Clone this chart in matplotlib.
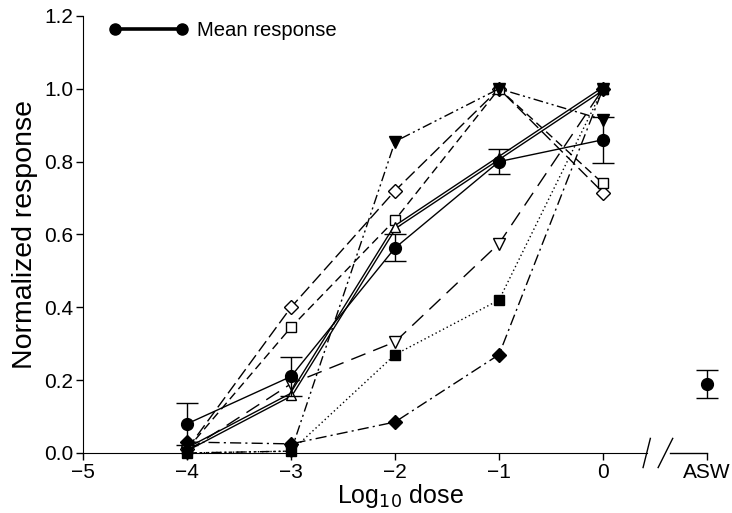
import matplotlib
matplotlib.use("Agg")
import matplotlib.pyplot as plt
from matplotlib.lines import Line2D

plt.rcParams['font.family'] = ['Liberation Sans', 'DejaVu Sans']

doses = [-4, -3, -2, -1, 0]
x_ticks = [-5, -4, -3, -2, -1, 0, 1]
x_ticklabels = ['\u22125', '\u22124', '\u22123', '\u22122', '\u22121', '0', 'ASW']
y_ticks = [0.0, 0.2, 0.4, 0.6, 0.8, 1.0, 1.2]

s_tri_down_filled = [0.0, 0.005, 0.855, 1.0, 0.915]
s_diamond_open = [0.01, 0.40, 0.72, 1.0, 0.715]
s_square_open = [0.01, 0.345, 0.64, 1.0, 0.74]
s_tri_up_open = [0.01, 0.16, 0.62, 0.81, 1.0]
s_tri_down_open = [0.005, 0.19, 0.305, 0.575, 1.0]
s_square_filled = [0.0, 0.005, 0.27, 0.42, 1.0]
s_diamond_filled = [0.03, 0.025, 0.085, 0.27, 1.0]

mean_resp = [0.08, 0.21, 0.563, 0.80, 0.86]
mean_err = [0.057, 0.053, 0.037, 0.034, 0.063]
asw_x = [1]
asw_mean = [0.19]
asw_err = [0.038]

fig = plt.figure(figsize=(7.32, 5.13), dpi=100)
ax = fig.add_axes([0.1134, 0.117, 0.8667, 0.852])

kw = dict(color='black', lw=1.0, clip_on=False)
# open diamond, long dash
ax.plot(doses, s_diamond_open, ls=(0, (9, 3.5)), marker='D', ms=7.5,
        mfc='white', mew=1.0, zorder=3, **kw)
# open square, dashed
ax.plot(doses, s_square_open, ls=(0, (6, 3.5)), marker='s', ms=7.5,
        mfc='white', mew=1.0, zorder=3.05, **kw)
# open up-triangle, double solid line
ax.plot(doses, s_tri_up_open, color='black', lw=2.9, solid_capstyle='butt', zorder=3.1)
ax.plot(doses, s_tri_up_open, color='white', lw=0.9, zorder=3.11)
ax.plot(doses, s_tri_up_open, ls='none', marker='^', ms=7.5, mfc='white',
        mec='black', mew=1.0, clip_on=False, zorder=3.12)
# open down-triangle, long dash
ax.plot(doses, s_tri_down_open, ls=(0, (11, 6)), marker='v', ms=8,
        mfc='white', mew=1.0, zorder=3.2, **kw)
# filled square, dotted
ax.plot(doses, s_square_filled, ls=(0, (1, 2)), marker='s', ms=7.5,
        mfc='black', zorder=3.3, **kw)
# filled diamond, dash-dot
ax.plot(doses, s_diamond_filled, ls=(0, (8, 3, 1.5, 3)), marker='D', ms=7.5,
        mfc='black', zorder=3.4, **kw)
# filled down-triangle, dash-dot-dot
ax.plot(doses, s_tri_down_filled, ls=(0, (7, 2.5, 1.5, 2.5, 1.5, 2.5)),
        marker='v', ms=8.5, mfc='black', zorder=3.5, **kw)

# mean response
ax.errorbar(doses, mean_resp, yerr=mean_err, color='black', lw=1.0,
            marker='o', ms=8.5, capsize=8, elinewidth=1.0, capthick=1.0,
            clip_on=False, zorder=4)
ax.errorbar(asw_x, asw_mean, yerr=asw_err, color='black', ls='none',
            marker='o', ms=8.5, capsize=8, elinewidth=1.0, capthick=1.0,
            clip_on=False, zorder=4)

ax.set_xlim(-5, 1.1)
ax.set_ylim(0, 1.2)
ax.set_xticks(x_ticks)
ax.set_xticklabels(x_ticklabels)
ax.set_yticks(y_ticks)
ax.set_yticklabels(['%.1f' % v for v in y_ticks])
ax.tick_params(direction='out', length=5, width=1, labelsize=15, pad=2)
ax.spines['top'].set_visible(False)
ax.spines['right'].set_visible(False)
ax.spines['left'].set_bounds(0, 1.2)
ax.spines['bottom'].set_bounds(-5, 0.42)

# broken axis continuation and break marks
ax.add_line(Line2D([0.64, 1.0], [0, 0], color='black', lw=1, clip_on=False))
for xb, dx in [(0.42, 0.035), (0.60, 0.07)]:
    ax.add_line(Line2D([xb - dx, xb + dx], [-0.04, 0.04], color='black', lw=1,
                       clip_on=False))

ax.set_xlabel('Log$_{10}$ dose', fontsize=18, labelpad=0)
ax.set_ylabel('Normalized response', fontsize=20.5, labelpad=4)

handle = Line2D([], [], color='black', lw=2.6, marker='o', ms=8)
ax.legend([handle], ['Mean response'], loc='upper left', frameon=False,
          handlelength=3.9, numpoints=2, fontsize=14.6,
          bbox_to_anchor=(0.012, 1.03), handletextpad=0.45)

fig.savefig('out.png', dpi=100)
